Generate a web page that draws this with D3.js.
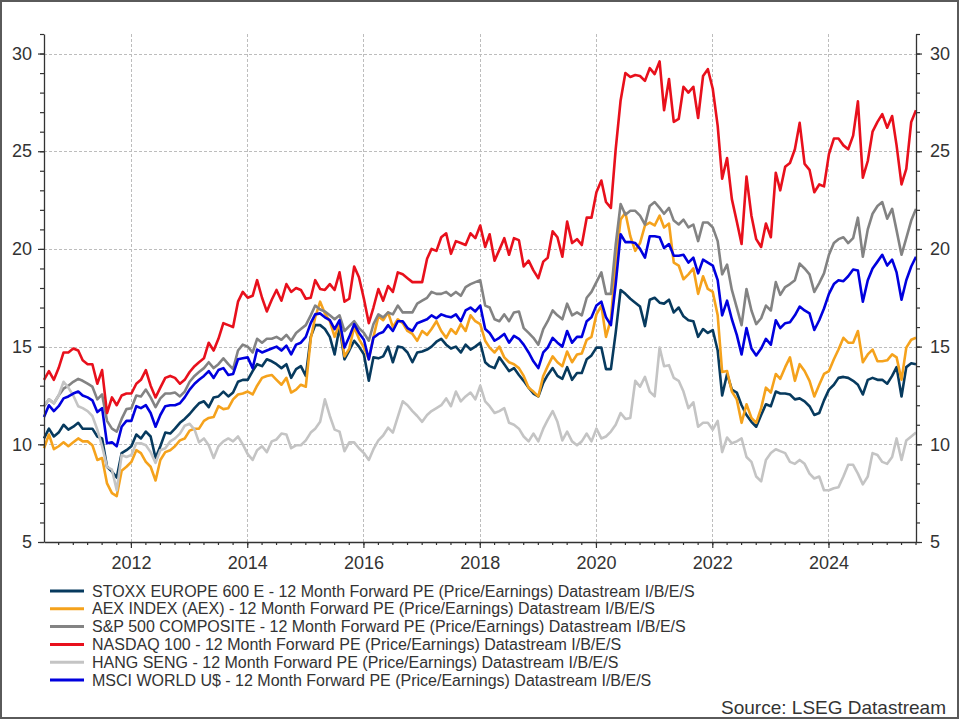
<!DOCTYPE html>
<html><head><meta charset="utf-8">
<script src="https://cdn.jsdelivr.net/npm/d3@7"></script>
<style>body{margin:0;background:#fff}svg{display:block}</style>
</head><body><svg id="c" width="960" height="720"></svg>
<script>
// ---- data (monthly, Jul 2010 .. Jul 2025) ----
const startMonth = new Date(2010, 6, 4);
const monthCount = 181;

const stoxx = [10.3,10.8,10.4,10.6,11.0,10.75,10.9,11.1,10.8,10.8,10.8,10.4,10.3,8.85,8.6,8.3,9.55,9.7,9.9,10.5,
10.3,10.65,10.4,9.3,9.9,10.6,10.55,10.8,11.1,11.3,11.55,11.85,12.1,12.2,11.9,12.4,12.45,12.7,12.45,12.65,
13.2,13.3,13.3,13.75,14.1,14.0,14.35,14.25,14.1,13.9,14.1,13.4,13.85,14.0,13.5,15.5,16.1,16.1,15.9,15.5,
14.6,16.0,14.35,14.8,15.3,15.0,14.6,13.25,14.45,14.4,14.5,15.0,14.2,15.0,14.95,14.7,14.2,14.7,14.75,14.85,
15.0,15.25,15.4,15.1,14.9,15.0,14.7,15.1,14.85,15.0,15.2,14.2,14.0,13.9,14.45,14.1,13.75,13.9,13.55,13.25,
12.9,12.6,12.45,13.15,13.55,13.9,13.5,13.35,13.95,13.3,13.65,13.65,14.35,14.55,14.95,14.95,13.85,13.85,15.7,17.9,
17.7,17.45,17.25,17.05,16.05,17.4,17.5,17.25,17.2,17.4,16.75,17.0,16.55,16.35,16.3,15.5,15.9,15.7,15.85,14.8,
12.5,13.6,12.8,12.65,12.0,11.5,11.15,10.9,11.5,12.05,11.95,12.7,12.6,12.6,12.55,12.3,12.35,12.2,11.95,11.5,
11.6,12.25,12.8,13.05,13.4,13.45,13.4,13.25,13.05,12.55,13.3,13.4,13.3,13.3,13.1,13.5,13.95,12.45,13.95,14.15,14.1];

const aex = [9.8,10.5,9.75,9.9,10.1,9.9,10.1,10.3,10.15,10.15,9.95,9.2,9.3,8.0,7.5,7.35,8.65,8.85,9.1,9.7,
9.55,9.1,8.85,8.15,9.2,9.6,9.7,9.9,10.2,10.3,10.7,10.8,10.8,11.2,11.35,11.4,11.95,11.8,11.85,12.3,
12.55,12.6,12.7,12.55,13.0,13.4,13.5,13.55,13.3,13.05,13.4,12.65,12.8,13.05,12.95,15.4,16.5,17.3,16.7,16.3,
15.5,16.2,14.5,14.9,16.0,15.4,14.95,14.35,15.5,16.55,16.35,16.75,16.0,16.4,16.2,15.8,15.65,15.3,15.8,15.6,
15.9,16.3,15.8,15.45,15.9,15.65,16.15,15.8,16.6,16.3,16.15,15.3,14.95,14.7,15.0,14.45,14.2,14.1,13.9,13.5,
12.9,12.7,12.45,13.5,14.0,14.5,14.2,14.0,14.75,14.2,14.6,14.65,15.35,15.5,16.65,17.1,15.5,16.4,19.3,21.5,
21.85,20.65,19.9,20.3,21.2,21.35,21.2,21.7,21.1,21.3,19.3,19.15,18.45,18.7,19.0,17.7,18.6,17.95,17.8,16.6,
13.7,13.75,12.7,12.3,11.1,12.05,11.35,11.1,11.85,12.9,12.65,13.6,13.35,13.95,14.45,13.25,14.1,13.75,13.25,12.45,
13.05,13.6,13.75,14.35,14.85,15.45,15.2,15.2,15.8,14.2,14.6,14.85,14.25,14.25,14.3,14.6,14.45,13.3,14.95,15.35,15.45];

const sp500 = [11.95,12.3,12.1,12.5,12.85,13.0,13.2,13.35,13.25,13.1,12.95,12.3,12.55,11.2,10.8,10.65,11.3,11.8,11.85,12.5,
12.45,12.8,12.4,11.9,12.35,12.6,12.6,12.65,12.45,12.7,13.2,13.5,13.7,13.9,14.2,13.9,14.1,14.4,14.1,13.85,
14.8,15.1,15.0,14.7,15.4,15.2,15.4,15.4,15.5,15.35,15.6,15.3,15.7,15.9,16.1,16.6,17.1,16.9,16.8,16.6,
16.4,16.6,15.8,16.05,16.3,15.95,15.7,15.3,16.15,16.65,16.5,16.75,16.65,17.1,16.75,16.75,16.75,17.2,17.35,17.5,
17.8,17.7,17.7,17.8,17.6,17.8,17.6,18.05,18.2,18.3,18.4,17.1,17.0,16.4,16.3,16.65,16.3,16.75,16.8,15.95,
15.7,15.45,15.1,15.9,16.3,16.85,16.6,16.4,17.2,16.6,16.75,16.6,17.5,17.8,18.3,18.8,17.7,17.7,20.2,22.3,
21.75,21.95,21.95,21.7,21.25,22.2,22.4,22.1,21.8,22.1,21.45,21.25,21.5,21.1,21.25,20.4,21.35,21.35,21.1,20.4,
18.7,19.2,17.9,17.0,16.1,17.95,16.85,16.15,16.45,17.1,16.85,18.3,17.65,18.05,18.2,18.4,19.25,19.0,18.7,17.8,
18.25,18.75,19.7,20.3,20.5,20.6,20.3,20.55,21.6,19.6,21.0,21.8,22.2,22.4,21.55,22.05,20.95,19.7,20.55,21.45,22.05];

const nasdaq = [13.3,13.75,13.3,13.9,14.7,14.7,14.9,14.8,14.3,14.1,14.1,13.1,13.8,11.6,12.4,12.0,12.5,12.6,12.6,13.1,
13.3,13.8,13.0,12.4,12.9,13.4,13.5,13.4,13.1,13.3,13.7,14.0,14.2,14.4,15.2,14.8,15.4,16.2,16.1,16.0,
17.3,17.8,17.5,17.6,18.4,17.5,16.8,17.4,17.9,17.35,18.2,17.8,18.0,17.9,17.45,17.5,18.4,17.95,17.9,18.2,
17.9,18.8,17.3,17.45,19.1,18.55,17.45,16.2,17.0,17.95,17.35,18.1,17.8,18.8,18.7,18.5,18.3,18.3,18.3,19.5,
20.0,19.9,20.6,20.8,19.75,20.4,20.3,20.2,20.8,20.55,21.2,20.1,20.75,19.4,19.95,20.55,19.7,20.55,20.45,19.1,
19.4,18.9,18.5,19.35,19.55,20.9,20.6,19.6,21.4,20.3,20.5,20.2,21.6,21.6,22.9,23.5,22.4,22.1,25.1,27.6,
29.0,28.8,28.9,28.85,28.6,29.25,28.95,29.6,27.1,28.7,26.5,26.65,28.3,28.0,28.3,26.7,28.85,29.2,28.2,26.3,
23.6,24.65,22.55,21.4,20.25,23.7,21.7,20.5,20.1,21.3,20.6,23.9,23.0,24.2,24.4,25.1,26.45,24.35,24.05,22.9,
23.3,23.2,24.85,25.65,25.65,25.3,25.1,25.8,27.55,23.65,24.5,26.0,26.5,26.9,26.2,26.8,25.3,23.3,24.1,26.5,27.1];

const hangseng = [12.0,12.3,12.1,12.5,13.2,12.9,12.5,11.95,11.85,11.7,11.45,10.75,9.9,8.85,8.7,7.65,9.45,9.35,9.45,10.05,
10.05,9.95,9.6,9.05,9.7,9.8,10.15,10.3,10.55,10.95,11.05,10.75,10.1,10.3,9.95,9.3,9.9,10.15,10.3,10.15,
10.4,10.0,9.5,9.2,9.7,9.9,9.6,10.15,10.25,10.55,10.5,9.8,9.95,9.95,10.2,10.6,10.8,11.15,12.3,11.45,
10.75,10.65,9.65,10.1,10.1,9.8,9.55,9.2,9.75,10.2,10.45,10.85,10.6,11.4,12.2,12.0,11.7,11.45,11.15,11.5,
11.7,11.85,12.0,12.35,11.95,12.7,12.2,12.45,12.65,12.3,13.0,12.2,11.95,11.6,11.7,11.85,11.1,11.0,10.8,10.4,
10.15,10.55,10.15,10.8,11.25,11.7,11.15,10.2,10.65,10.15,9.95,10.15,10.55,10.15,10.8,10.3,10.4,10.65,11.0,11.6,
11.3,11.35,13.25,12.95,13.45,12.7,12.45,14.95,14.0,14.05,13.4,13.25,12.7,11.85,12.15,10.9,11.1,11.1,10.75,11.2,
9.6,10.35,10.05,10.15,10.3,9.35,9.1,8.35,8.1,9.2,9.55,9.75,9.65,9.55,9.1,9.0,9.2,9.0,8.5,8.25,
8.35,7.65,7.65,7.75,7.8,8.35,8.95,8.95,8.5,7.95,8.35,9.55,9.45,9.1,9.0,9.35,10.3,9.2,10.2,10.4,10.6];

const msci = [11.4,12.0,11.7,11.95,12.35,12.45,12.6,12.7,12.5,12.4,12.25,11.65,11.85,10.05,10.1,9.9,10.9,11.2,11.2,11.95,
11.85,12.0,11.6,10.9,11.5,11.95,12.0,12.0,12.1,12.4,12.8,13.1,13.3,13.5,13.75,13.4,13.8,13.9,13.55,13.6,
14.35,14.4,14.45,13.9,14.85,14.7,14.8,14.9,15.0,14.8,15.05,14.6,15.1,15.2,15.5,16.2,16.65,16.7,16.5,16.35,
15.9,16.35,14.95,15.5,16.15,15.7,15.35,14.35,15.45,15.65,15.75,16.1,15.8,16.3,16.3,15.95,15.8,16.2,16.3,16.4,
16.6,16.45,16.65,16.55,16.5,16.65,16.3,16.85,17.0,16.8,17.1,15.9,15.7,15.3,15.45,15.65,15.2,15.55,15.4,15.1,
14.7,14.25,13.9,14.7,14.95,15.45,15.2,15.0,15.8,15.2,15.5,15.5,16.3,16.5,17.1,17.3,16.5,16.1,18.2,20.75,
20.35,20.35,20.3,20.0,19.55,20.65,20.65,20.6,20.05,20.25,19.65,19.65,19.7,19.3,19.55,18.75,19.45,19.3,19.15,18.4,
16.6,17.35,16.4,15.6,14.6,15.95,14.9,14.55,14.9,15.4,15.1,16.35,15.95,16.2,16.25,16.6,17.05,16.85,16.7,15.85,
16.35,16.95,17.7,18.2,18.4,18.35,18.6,18.95,18.9,17.3,18.4,19.0,19.35,19.7,19.15,19.45,18.8,17.4,18.4,19.1,19.6];

const seriesLabels = [
  "STOXX EUROPE 600 E - 12 Month Forward PE (Price/Earnings) Datastream I/B/E/S",
  "AEX INDEX (AEX) - 12 Month Forward PE (Price/Earnings) Datastream I/B/E/S",
  "S&P 500 COMPOSITE - 12 Month Forward PE (Price/Earnings) Datastream I/B/E/S",
  "NASDAQ 100 - 12 Month Forward PE (Price/Earnings) Datastream I/B/E/S",
  "HANG SENG - 12 Month Forward PE (Price/Earnings) Datastream I/B/E/S",
  "MSCI WORLD U$ - 12 Month Forward PE (Price/Earnings) Datastream I/B/E/S"
];
const seriesColors = ["#073a5e", "#f5a21c", "#838383", "#e8101c", "#c4c4c4", "#0000de"];
const yMajorTicks = [5, 10, 15, 20, 25, 30];
const xTickYears = [2012, 2014, 2016, 2018, 2020, 2022, 2024];
const sourceText = "Source: LSEG Datastream";

// ---- drawing ----
const FONT = "'Liberation Sans', Arial, Helvetica, sans-serif";
const TXT = "#333";
const L = 44, R = 916, T = 34, B = 542;
const svg = d3.select("#c");
svg.append("rect").attr("width", 960).attr("height", 720).attr("fill", "#fff");
svg.append("rect").attr("x", 1).attr("y", 1).attr("width", 957).attr("height", 717)
  .attr("fill", "none").attr("stroke", "#5a5a5a").attr("stroke-width", 2);

const dates = d3.range(monthCount).map(i => d3.timeMonth.offset(startMonth, i));
const x = d3.scaleTime().domain(d3.extent(dates)).range([L, R]);
const y = d3.scaleLinear().domain([5, 31]).range([B, T]);

const xMajor = xTickYears.map(yr => new Date(yr, 0, 1));
const xMinor = d3.timeMonth.every(3).range(x.domain()[0], x.domain()[1]);
const yMinor = d3.range(5, 32, 1);

// grid
const grid = svg.append("g").attr("stroke", "#bdbdbd").attr("stroke-width", 1).attr("stroke-dasharray", "3,2");
grid.selectAll(".gh").data(yMajorTicks.filter(v => v > 5)).join("line")
  .attr("x1", L).attr("x2", R).attr("y1", d => Math.round(y(d)) + 0.5).attr("y2", d => Math.round(y(d)) + 0.5);
grid.selectAll(".gv").data(xMajor).join("line")
  .attr("y1", T).attr("y2", B).attr("x1", d => Math.round(x(d)) + 0.5).attr("x2", d => Math.round(x(d)) + 0.5);

// lines
const allSeries = [stoxx, aex, sp500, nasdaq, hangseng, msci];
const line = d3.line().x((d, i) => x(dates[i])).y(d => y(d));
svg.append("g").selectAll("path").data(allSeries).join("path")
  .attr("d", d => line(d)).attr("fill", "none")
  .attr("stroke", (d, i) => seriesColors[i]).attr("stroke-width", 2.6)
  .attr("stroke-linejoin", "round");

// axes
function styleAxis(g) {
  g.select(".domain").attr("stroke", "#333").attr("stroke-width", 1.3);
  g.selectAll(".tick line").attr("stroke", "#333").attr("stroke-width", 1.2);
  g.selectAll(".tick text").attr("font-family", FONT).attr("font-size", 18).attr("fill", TXT);
}
// minor
svg.append("g").attr("transform", `translate(${L},0)`)
  .call(d3.axisLeft(y).tickValues(yMinor).tickSize(4).tickFormat("").tickSizeOuter(0)).call(styleAxis);
svg.append("g").attr("transform", `translate(${R},0)`)
  .call(d3.axisRight(y).tickValues(yMinor).tickSize(4).tickFormat("").tickSizeOuter(0)).call(styleAxis);
svg.append("g").attr("transform", `translate(0,${B})`)
  .call(d3.axisBottom(x).tickValues(xMinor).tickSize(3).tickFormat("").tickSizeOuter(0)).call(styleAxis);
// major
svg.append("g").attr("transform", `translate(${L},0)`)
  .call(d3.axisLeft(y).tickValues(yMajorTicks).tickSize(6).tickPadding(6).tickFormat(d3.format("d")).tickSizeOuter(0))
  .call(styleAxis).call(g => g.select(".domain").remove());
svg.append("g").attr("transform", `translate(${R},0)`)
  .call(d3.axisRight(y).tickValues(yMajorTicks).tickSize(6).tickPadding(8).tickFormat(d3.format("d")).tickSizeOuter(0))
  .call(styleAxis).call(g => g.select(".domain").remove());
svg.append("g").attr("transform", `translate(0,${B})`)
  .call(d3.axisBottom(x).tickValues(xMajor).tickSize(6).tickPadding(8).tickFormat(d3.timeFormat("%Y")).tickSizeOuter(0))
  .call(styleAxis).call(g => g.select(".domain").remove());

// legend
const leg = svg.append("g").selectAll("g").data(seriesLabels).join("g")
  .attr("transform", (d, i) => `translate(0,${591 + i * 17.8})`);
leg.append("line").attr("x1", 50).attr("x2", 84).attr("y1", 0).attr("y2", 0)
  .attr("stroke", (d, i) => seriesColors[i]).attr("stroke-width", 3);
leg.append("text").attr("x", 92).attr("y", 5.6).text(d => d)
  .attr("font-family", FONT).attr("font-size", 16).attr("fill", TXT);

svg.append("text").attr("x", 946).attr("y", 714).attr("text-anchor", "end")
  .attr("font-family", FONT).attr("font-size", 19).attr("fill", TXT).text(sourceText);
</script></body></html>
